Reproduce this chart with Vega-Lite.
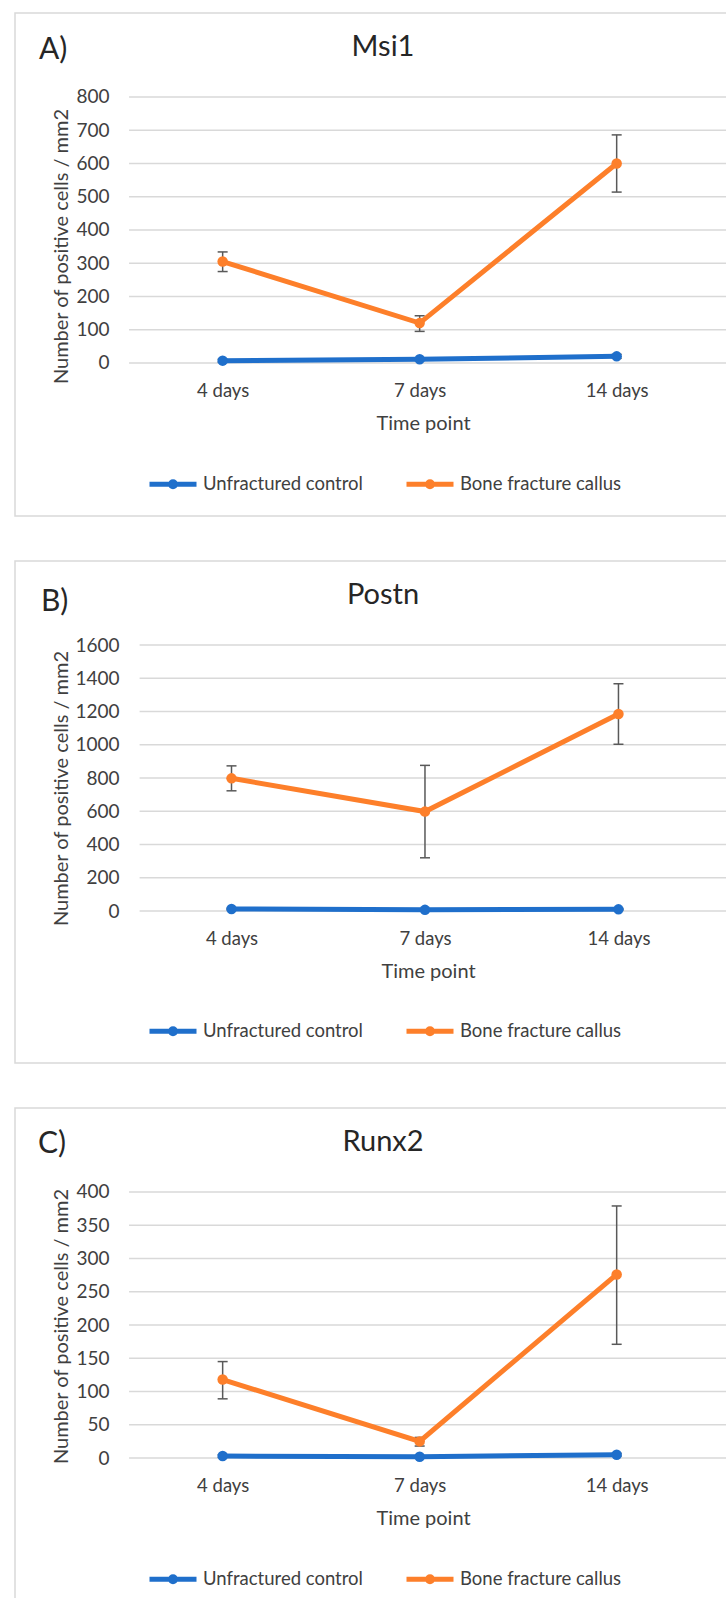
{
  "$schema": "https://vega.github.io/schema/vega-lite/v6.json",
  "padding": {"left": 14, "top": 12, "right": 0, "bottom": 0},
  "spacing": 43,
  "datasets": {
    "vals": [
      {"gene": "Msi1", "time": "4 days", "t": 0, "group": "Unfractured control", "v": 7, "lo": 3, "hi": 11},
      {"gene": "Msi1", "time": "7 days", "t": 1, "group": "Unfractured control", "v": 11, "lo": 7, "hi": 15},
      {"gene": "Msi1", "time": "14 days", "t": 2, "group": "Unfractured control", "v": 20, "lo": 14, "hi": 26},
      {"gene": "Msi1", "time": "4 days", "t": 0, "group": "Bone fracture callus", "v": 305, "lo": 275, "hi": 334},
      {"gene": "Msi1", "time": "7 days", "t": 1, "group": "Bone fracture callus", "v": 120, "lo": 95, "hi": 142},
      {"gene": "Msi1", "time": "14 days", "t": 2, "group": "Bone fracture callus", "v": 600, "lo": 514, "hi": 686},
      {"gene": "Postn", "time": "4 days", "t": 0, "group": "Unfractured control", "v": 12, "lo": 8, "hi": 16},
      {"gene": "Postn", "time": "7 days", "t": 1, "group": "Unfractured control", "v": 7, "lo": 4, "hi": 10},
      {"gene": "Postn", "time": "14 days", "t": 2, "group": "Unfractured control", "v": 10, "lo": 6, "hi": 14},
      {"gene": "Postn", "time": "4 days", "t": 0, "group": "Bone fracture callus", "v": 798, "lo": 723, "hi": 873},
      {"gene": "Postn", "time": "7 days", "t": 1, "group": "Bone fracture callus", "v": 598, "lo": 320, "hi": 876},
      {"gene": "Postn", "time": "14 days", "t": 2, "group": "Bone fracture callus", "v": 1185, "lo": 1003, "hi": 1367},
      {"gene": "Runx2", "time": "4 days", "t": 0, "group": "Unfractured control", "v": 3, "lo": 1, "hi": 5},
      {"gene": "Runx2", "time": "7 days", "t": 1, "group": "Unfractured control", "v": 2, "lo": 1, "hi": 3},
      {"gene": "Runx2", "time": "14 days", "t": 2, "group": "Unfractured control", "v": 5, "lo": 3, "hi": 7},
      {"gene": "Runx2", "time": "4 days", "t": 0, "group": "Bone fracture callus", "v": 118, "lo": 89, "hi": 145},
      {"gene": "Runx2", "time": "7 days", "t": 1, "group": "Bone fracture callus", "v": 25, "lo": 18, "hi": 31},
      {"gene": "Runx2", "time": "14 days", "t": 2, "group": "Bone fracture callus", "v": 276, "lo": 171, "hi": 379}
    ],
    "grid": [
      {"gene": "Msi1", "v": 0}, {"gene": "Msi1", "v": 100}, {"gene": "Msi1", "v": 200}, {"gene": "Msi1", "v": 300}, {"gene": "Msi1", "v": 400}, {"gene": "Msi1", "v": 500}, {"gene": "Msi1", "v": 600}, {"gene": "Msi1", "v": 700}, {"gene": "Msi1", "v": 800},
      {"gene": "Postn", "v": 0}, {"gene": "Postn", "v": 200}, {"gene": "Postn", "v": 400}, {"gene": "Postn", "v": 600}, {"gene": "Postn", "v": 800}, {"gene": "Postn", "v": 1000}, {"gene": "Postn", "v": 1200}, {"gene": "Postn", "v": 1400}, {"gene": "Postn", "v": 1600},
      {"gene": "Runx2", "v": 0}, {"gene": "Runx2", "v": 50}, {"gene": "Runx2", "v": 100}, {"gene": "Runx2", "v": 150}, {"gene": "Runx2", "v": 200}, {"gene": "Runx2", "v": 250}, {"gene": "Runx2", "v": 300}, {"gene": "Runx2", "v": 350}, {"gene": "Runx2", "v": 400}
    ]
  },
  "resolve": {"scale": {"color": "independent"}, "legend": {"color": "independent"}},
  "vconcat": [
    {
      "width": 712, "height": 503,
      "title": {"text": "Msi1"},
      "layer": [
        {
          "data": {"name": "grid"},
          "transform": [{"filter": "datum.gene == 'Msi1'"}],
          "mark": {"type": "rule", "color": "#d9d9d9", "strokeWidth": 1.5},
          "encoding": {
            "x": {"datum": -0.475, "type": "quantitative", "scale": {"domain": [-1.054, 2.56], "nice": false, "zero": false}},
            "x2": {"datum": 2.56},
            "y": {"field": "v", "type": "quantitative", "scale": {"domain": [-460.2, 1052.6], "nice": false, "zero": false},
                  "axis": {"values": [0, 100, 200, 300, 400, 500, 600, 700, 800], "format": "d", "offset": -114, "labelPadding": 20, "labelFontSize": 19,
                           "title": "Number of positive cells / mm2", "titleFontSize": 20, "titleX": -67.5, "titleY": 233, "titleAngle": -90, "titleAlign": "center", "titleBaseline": "middle"}}
          }
        },
        {
          "data": {"name": "vals"},
          "transform": [{"filter": "datum.gene == 'Msi1'"}],
          "mark": {"type": "rule", "color": "#595959", "strokeWidth": 1.5},
          "encoding": {
            "x": {"field": "t", "type": "quantitative", "scale": {"domain": [-1.054, 2.56], "nice": false, "zero": false}},
            "y": {"field": "lo", "type": "quantitative", "scale": {"domain": [-460.2, 1052.6], "nice": false, "zero": false}, "title": "Number of positive cells / mm2"},
            "y2": {"field": "hi"}
          }
        },
        {
          "data": {"name": "vals"},
          "transform": [{"filter": "datum.gene == 'Msi1'"}],
          "mark": {"type": "tick", "orient": "horizontal", "color": "#595959", "size": 10, "thickness": 1.5, "opacity": 1},
          "encoding": {
            "x": {"field": "t", "type": "quantitative", "scale": {"domain": [-1.054, 2.56], "nice": false, "zero": false}},
            "y": {"field": "lo", "type": "quantitative", "scale": {"domain": [-460.2, 1052.6], "nice": false, "zero": false}, "title": "Number of positive cells / mm2"}
          }
        },
        {
          "data": {"name": "vals"},
          "transform": [{"filter": "datum.gene == 'Msi1'"}],
          "mark": {"type": "tick", "orient": "horizontal", "color": "#595959", "size": 10, "thickness": 1.5, "opacity": 1},
          "encoding": {
            "x": {"field": "t", "type": "quantitative", "scale": {"domain": [-1.054, 2.56], "nice": false, "zero": false}},
            "y": {"field": "hi", "type": "quantitative", "scale": {"domain": [-460.2, 1052.6], "nice": false, "zero": false}, "title": "Number of positive cells / mm2"}
          }
        },
        {
          "data": {"name": "vals"},
          "transform": [{"filter": "datum.gene == 'Msi1'"}],
          "mark": {"type": "line", "strokeWidth": 5},
          "encoding": {
            "x": {"field": "t", "type": "quantitative", "scale": {"domain": [-1.054, 2.56], "nice": false, "zero": false},
                  "axis": {"values": [0, 1, 2], "labelExpr": "datum.value == 0 ? '4 days' : datum.value == 1 ? '7 days' : '14 days'", "offset": -153, "labelPadding": 27, "labelBaseline": "middle", "labelFontSize": 18.5, "labelFlush": false, "labelOverlap": false,
                           "title": "Time point", "titleFontSize": 20, "titleX": 408, "titleY": 60, "titleBaseline": "middle", "titleAlign": "center"}},
            "y": {"field": "v", "type": "quantitative", "scale": {"domain": [-460.2, 1052.6], "nice": false, "zero": false}, "title": "Number of positive cells / mm2"},
            "color": {"field": "group", "type": "nominal", "scale": {"domain": ["Unfractured control", "Bone fracture callus"], "range": ["#1f6fcb", "#fd7f2a"]},
                      "legend": {"orient": "none", "legendX": 132, "legendY": 445, "direction": "horizontal", "title": null}},
            "order": {"field": "t"}
          }
        },
        {
          "data": {"name": "vals"},
          "transform": [{"filter": "datum.gene == 'Msi1'"}],
          "mark": {"type": "point", "filled": true, "size": 110, "opacity": 1},
          "encoding": {
            "x": {"field": "t", "type": "quantitative", "scale": {"domain": [-1.054, 2.56], "nice": false, "zero": false}},
            "y": {"field": "v", "type": "quantitative", "scale": {"domain": [-460.2, 1052.6], "nice": false, "zero": false}, "title": "Number of positive cells / mm2"},
            "color": {"field": "group", "type": "nominal", "scale": {"domain": ["Unfractured control", "Bone fracture callus"], "range": ["#1f6fcb", "#fd7f2a"]},
                      "legend": {"orient": "none", "legendX": 132, "legendY": 445, "direction": "horizontal", "title": null}}
          }
        },
        {
          "data": {"values": [{"label": "A)"}]},
          "mark": {"type": "text", "align": "left", "baseline": "middle", "fontSize": 30, "font": "Lato", "color": "#262626"},
          "encoding": {
            "x": {"datum": -0.932, "type": "quantitative", "scale": {"domain": [-1.054, 2.56], "nice": false, "zero": false}},
            "y": {"datum": 941, "type": "quantitative", "scale": {"domain": [-460.2, 1052.6], "nice": false, "zero": false}},
            "text": {"field": "label"}
          }
        }
      ]
    },
    {
      "width": 712, "height": 502,
      "title": {"text": "Postn"},
      "layer": [
        {
          "data": {"name": "grid"},
          "transform": [{"filter": "datum.gene == 'Postn'"}],
          "mark": {"type": "rule", "color": "#d9d9d9", "strokeWidth": 1.5},
          "encoding": {
            "x": {"datum": -0.475, "type": "quantitative", "scale": {"domain": [-1.119, 2.561], "nice": false, "zero": false}},
            "x2": {"datum": 2.561},
            "y": {"field": "v", "type": "quantitative", "scale": {"domain": [-914.3, 2105.3], "nice": false, "zero": false},
                  "axis": {"values": [0, 200, 400, 600, 800, 1000, 1200, 1400, 1600], "format": "d", "offset": -124, "labelPadding": 20, "labelFontSize": 19,
                           "title": "Number of positive cells / mm2", "titleFontSize": 20, "titleX": -77.5, "titleY": 227, "titleAngle": -90, "titleAlign": "center", "titleBaseline": "middle"}}
          }
        },
        {
          "data": {"name": "vals"},
          "transform": [{"filter": "datum.gene == 'Postn'"}],
          "mark": {"type": "rule", "color": "#595959", "strokeWidth": 1.5},
          "encoding": {
            "x": {"field": "t", "type": "quantitative", "scale": {"domain": [-1.119, 2.561], "nice": false, "zero": false}},
            "y": {"field": "lo", "type": "quantitative", "scale": {"domain": [-914.3, 2105.3], "nice": false, "zero": false}, "title": "Number of positive cells / mm2"},
            "y2": {"field": "hi"}
          }
        },
        {
          "data": {"name": "vals"},
          "transform": [{"filter": "datum.gene == 'Postn'"}],
          "mark": {"type": "tick", "orient": "horizontal", "color": "#595959", "size": 10, "thickness": 1.5, "opacity": 1},
          "encoding": {
            "x": {"field": "t", "type": "quantitative", "scale": {"domain": [-1.119, 2.561], "nice": false, "zero": false}},
            "y": {"field": "lo", "type": "quantitative", "scale": {"domain": [-914.3, 2105.3], "nice": false, "zero": false}, "title": "Number of positive cells / mm2"}
          }
        },
        {
          "data": {"name": "vals"},
          "transform": [{"filter": "datum.gene == 'Postn'"}],
          "mark": {"type": "tick", "orient": "horizontal", "color": "#595959", "size": 10, "thickness": 1.5, "opacity": 1},
          "encoding": {
            "x": {"field": "t", "type": "quantitative", "scale": {"domain": [-1.119, 2.561], "nice": false, "zero": false}},
            "y": {"field": "hi", "type": "quantitative", "scale": {"domain": [-914.3, 2105.3], "nice": false, "zero": false}, "title": "Number of positive cells / mm2"}
          }
        },
        {
          "data": {"name": "vals"},
          "transform": [{"filter": "datum.gene == 'Postn'"}],
          "mark": {"type": "line", "strokeWidth": 5},
          "encoding": {
            "x": {"field": "t", "type": "quantitative", "scale": {"domain": [-1.119, 2.561], "nice": false, "zero": false},
                  "axis": {"values": [0, 1, 2], "labelExpr": "datum.value == 0 ? '4 days' : datum.value == 1 ? '7 days' : '14 days'", "offset": -152, "labelPadding": 27, "labelBaseline": "middle", "labelFontSize": 18.5, "labelFlush": false, "labelOverlap": false,
                           "title": "Time point", "titleFontSize": 20, "titleX": 413, "titleY": 60, "titleBaseline": "middle", "titleAlign": "center"}},
            "y": {"field": "v", "type": "quantitative", "scale": {"domain": [-914.3, 2105.3], "nice": false, "zero": false}, "title": "Number of positive cells / mm2"},
            "color": {"field": "group", "type": "nominal", "scale": {"domain": ["Unfractured control", "Bone fracture callus"], "range": ["#1f6fcb", "#fd7f2a"]},
                      "legend": {"orient": "none", "legendX": 132, "legendY": 444, "direction": "horizontal", "title": null}},
            "order": {"field": "t"}
          }
        },
        {
          "data": {"name": "vals"},
          "transform": [{"filter": "datum.gene == 'Postn'"}],
          "mark": {"type": "point", "filled": true, "size": 110, "opacity": 1},
          "encoding": {
            "x": {"field": "t", "type": "quantitative", "scale": {"domain": [-1.119, 2.561], "nice": false, "zero": false}},
            "y": {"field": "v", "type": "quantitative", "scale": {"domain": [-914.3, 2105.3], "nice": false, "zero": false}, "title": "Number of positive cells / mm2"},
            "color": {"field": "group", "type": "nominal", "scale": {"domain": ["Unfractured control", "Bone fracture callus"], "range": ["#1f6fcb", "#fd7f2a"]},
                      "legend": {"orient": "none", "legendX": 132, "legendY": 444, "direction": "horizontal", "title": null}}
          }
        },
        {
          "data": {"values": [{"label": "B)"}]},
          "mark": {"type": "text", "align": "left", "baseline": "middle", "fontSize": 30, "font": "Lato", "color": "#262626"},
          "encoding": {
            "x": {"datum": -0.985, "type": "quantitative", "scale": {"domain": [-1.119, 2.561], "nice": false, "zero": false}},
            "y": {"datum": 1858, "type": "quantitative", "scale": {"domain": [-914.3, 2105.3], "nice": false, "zero": false}},
            "text": {"field": "label"}
          }
        }
      ]
    },
    {
      "width": 712, "height": 495,
      "title": {"text": "Runx2"},
      "layer": [
        {
          "data": {"name": "grid"},
          "transform": [{"filter": "datum.gene == 'Runx2'"}],
          "mark": {"type": "rule", "color": "#d9d9d9", "strokeWidth": 1.5},
          "encoding": {
            "x": {"datum": -0.475, "type": "quantitative", "scale": {"domain": [-1.054, 2.56], "nice": false, "zero": false}},
            "x2": {"datum": 2.56},
            "y": {"field": "v", "type": "quantitative", "scale": {"domain": [-218, 526.3], "nice": false, "zero": false},
                  "axis": {"values": [0, 50, 100, 150, 200, 250, 300, 350, 400], "format": "d", "offset": -114, "labelPadding": 20, "labelFontSize": 19,
                           "title": "Number of positive cells / mm2", "titleFontSize": 20, "titleX": -67.5, "titleY": 218, "titleAngle": -90, "titleAlign": "center", "titleBaseline": "middle"}}
          }
        },
        {
          "data": {"name": "vals"},
          "transform": [{"filter": "datum.gene == 'Runx2'"}],
          "mark": {"type": "rule", "color": "#595959", "strokeWidth": 1.5},
          "encoding": {
            "x": {"field": "t", "type": "quantitative", "scale": {"domain": [-1.054, 2.56], "nice": false, "zero": false}},
            "y": {"field": "lo", "type": "quantitative", "scale": {"domain": [-218, 526.3], "nice": false, "zero": false}, "title": "Number of positive cells / mm2"},
            "y2": {"field": "hi"}
          }
        },
        {
          "data": {"name": "vals"},
          "transform": [{"filter": "datum.gene == 'Runx2'"}],
          "mark": {"type": "tick", "orient": "horizontal", "color": "#595959", "size": 10, "thickness": 1.5, "opacity": 1},
          "encoding": {
            "x": {"field": "t", "type": "quantitative", "scale": {"domain": [-1.054, 2.56], "nice": false, "zero": false}},
            "y": {"field": "lo", "type": "quantitative", "scale": {"domain": [-218, 526.3], "nice": false, "zero": false}, "title": "Number of positive cells / mm2"}
          }
        },
        {
          "data": {"name": "vals"},
          "transform": [{"filter": "datum.gene == 'Runx2'"}],
          "mark": {"type": "tick", "orient": "horizontal", "color": "#595959", "size": 10, "thickness": 1.5, "opacity": 1},
          "encoding": {
            "x": {"field": "t", "type": "quantitative", "scale": {"domain": [-1.054, 2.56], "nice": false, "zero": false}},
            "y": {"field": "hi", "type": "quantitative", "scale": {"domain": [-218, 526.3], "nice": false, "zero": false}, "title": "Number of positive cells / mm2"}
          }
        },
        {
          "data": {"name": "vals"},
          "transform": [{"filter": "datum.gene == 'Runx2'"}],
          "mark": {"type": "line", "strokeWidth": 5},
          "encoding": {
            "x": {"field": "t", "type": "quantitative", "scale": {"domain": [-1.054, 2.56], "nice": false, "zero": false},
                  "axis": {"values": [0, 1, 2], "labelExpr": "datum.value == 0 ? '4 days' : datum.value == 1 ? '7 days' : '14 days'", "offset": -145, "labelPadding": 27, "labelBaseline": "middle", "labelFontSize": 18.5, "labelFlush": false, "labelOverlap": false,
                           "title": "Time point", "titleFontSize": 20, "titleX": 408, "titleY": 60, "titleBaseline": "middle", "titleAlign": "center"}},
            "y": {"field": "v", "type": "quantitative", "scale": {"domain": [-218, 526.3], "nice": false, "zero": false}, "title": "Number of positive cells / mm2"},
            "color": {"field": "group", "type": "nominal", "scale": {"domain": ["Unfractured control", "Bone fracture callus"], "range": ["#1f6fcb", "#fd7f2a"]},
                      "legend": {"orient": "none", "legendX": 132, "legendY": 445, "direction": "horizontal", "title": null}},
            "order": {"field": "t"}
          }
        },
        {
          "data": {"name": "vals"},
          "transform": [{"filter": "datum.gene == 'Runx2'"}],
          "mark": {"type": "point", "filled": true, "size": 110, "opacity": 1},
          "encoding": {
            "x": {"field": "t", "type": "quantitative", "scale": {"domain": [-1.054, 2.56], "nice": false, "zero": false}},
            "y": {"field": "v", "type": "quantitative", "scale": {"domain": [-218, 526.3], "nice": false, "zero": false}, "title": "Number of positive cells / mm2"},
            "color": {"field": "group", "type": "nominal", "scale": {"domain": ["Unfractured control", "Bone fracture callus"], "range": ["#1f6fcb", "#fd7f2a"]},
                      "legend": {"orient": "none", "legendX": 132, "legendY": 445, "direction": "horizontal", "title": null}}
          }
        },
        {
          "data": {"values": [{"label": "C)"}]},
          "mark": {"type": "text", "align": "left", "baseline": "middle", "fontSize": 30, "font": "Lato", "color": "#262626"},
          "encoding": {
            "x": {"datum": -0.937, "type": "quantitative", "scale": {"domain": [-1.054, 2.56], "nice": false, "zero": false}},
            "y": {"datum": 471.5, "type": "quantitative", "scale": {"domain": [-218, 526.3], "nice": false, "zero": false}},
            "text": {"field": "label"}
          }
        }
      ]
    }
  ],
  "config": {
    "font": "Lato",
    "view": {"stroke": "#d9d9d9", "strokeWidth": 1.5},
    "axis": {"labelFont": "Lato", "labelColor": "#404040", "titleFont": "Lato", "titleColor": "#404040", "titleFontWeight": "normal", "domain": false, "ticks": false, "tickSize": 0, "grid": false},
    "title": {"font": "Lato", "fontWeight": "normal", "fontSize": 29, "color": "#262626", "anchor": "middle", "frame": "group", "baseline": "middle", "offset": -49, "dx": 12},
    "legend": {
      "symbolType": "M-1,0H1M0.106,0A0.106,0.106,0,1,1,-0.106,0A0.106,0.106,0,1,1,0.106,0",
      "symbolSize": 2209, "symbolStrokeWidth": 5, "symbolOpacity": 1,
      "labelFont": "Lato", "labelFontSize": 18.5, "labelColor": "#404040", "labelOffset": 4, "columnPadding": 33, "labelLimit": 400
    }
  }
}
